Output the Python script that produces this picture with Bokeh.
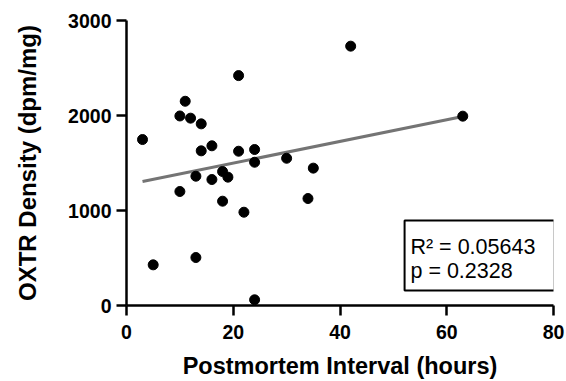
from bokeh.plotting import figure
from bokeh.models import Range1d, FixedTicker, BoxAnnotation, Label
from bokeh.embed import file_html
from bokeh.resources import INLINE

# Data
pmi_hours = [42, 21, 11, 10, 12, 14, 3, 14, 16, 21, 24, 24, 30, 35, 13, 16, 18, 19,
             10, 18, 22, 34, 5, 13, 24, 63]
oxtr_density = [2730, 2420, 2150, 1995, 1972, 1912, 1747, 1628, 1681, 1624, 1642, 1508,
                1550, 1446, 1361, 1326, 1410, 1351, 1200, 1098, 982, 1126, 428, 505, 60, 1993]
fit_x = [3, 63]
fit_y = [1305, 1990]
x_ticks = [0, 20, 40, 60, 80]
y_ticks = [0, 1000, 2000, 3000]
stats_lines = ["R\u00b2 = 0.05643", "p = 0.2328"]

FONT = "Liberation Sans"

p = figure(width=566, height=381, output_backend="svg", toolbar_location=None,
           x_range=Range1d(0, 80), y_range=Range1d(0, 3000),
           min_border_left=126, min_border_right=13, min_border_top=20,
           min_border_bottom=76)
p.outline_line_color = None
p.xgrid.visible = False
p.ygrid.visible = False
p.background_fill_color = "white"
p.border_fill_color = "white"

for ax in (p.xaxis[0], p.yaxis[0]):
    ax.axis_line_width = 2.5
    ax.axis_line_color = "black"
    ax.major_tick_line_width = 2.5
    ax.major_tick_line_color = "black"
    ax.major_tick_in = 0
    ax.major_tick_out = 10
    ax.minor_tick_line_color = None
    ax.major_label_text_font = FONT
    ax.major_label_text_font_style = "bold"
    ax.major_label_text_font_size = "19.5px"
    ax.major_label_text_color = "black"
    ax.axis_label_text_font = FONT
    ax.axis_label_text_font_style = "bold"
    ax.axis_label_text_color = "black"

p.xaxis.ticker = FixedTicker(ticks=x_ticks)
p.yaxis.ticker = FixedTicker(ticks=y_ticks)
p.xaxis.axis_label = "Postmortem Interval (hours)"
p.yaxis.axis_label = "OXTR Density (dpm/mg)"
p.xaxis.axis_label_text_font_size = "23.5px"
p.yaxis.axis_label_text_font_size = "24px"
p.xaxis.major_label_standoff = 9
p.xaxis.axis_label_standoff = 11
p.yaxis.major_label_standoff = 5
p.yaxis.axis_label_standoff = 24

p.line(fit_x, fit_y, line_color="#747474", line_width=3)
p.scatter(pmi_hours, oxtr_density, size=10, fill_color="black", line_color="black")

box = BoxAnnotation(left=52.1, right=80.2, bottom=158, top=895,
                    fill_color="white", fill_alpha=1.0,
                    line_color="black", line_width=2, line_alpha=1.0)
p.add_layout(box)
p.add_layout(Label(x=53.2, y=621, text=stats_lines[0], text_font=FONT,
                   text_font_size="21.5px", text_color="black",
                   text_baseline="alphabetic", text_align="left"))
p.add_layout(Label(x=53.2, y=358, text=stats_lines[1], text_font=FONT,
                   text_font_size="21.5px", text_color="black",
                   text_baseline="alphabetic", text_align="left"))

open("out.html", "w").write(file_html(p, INLINE))
